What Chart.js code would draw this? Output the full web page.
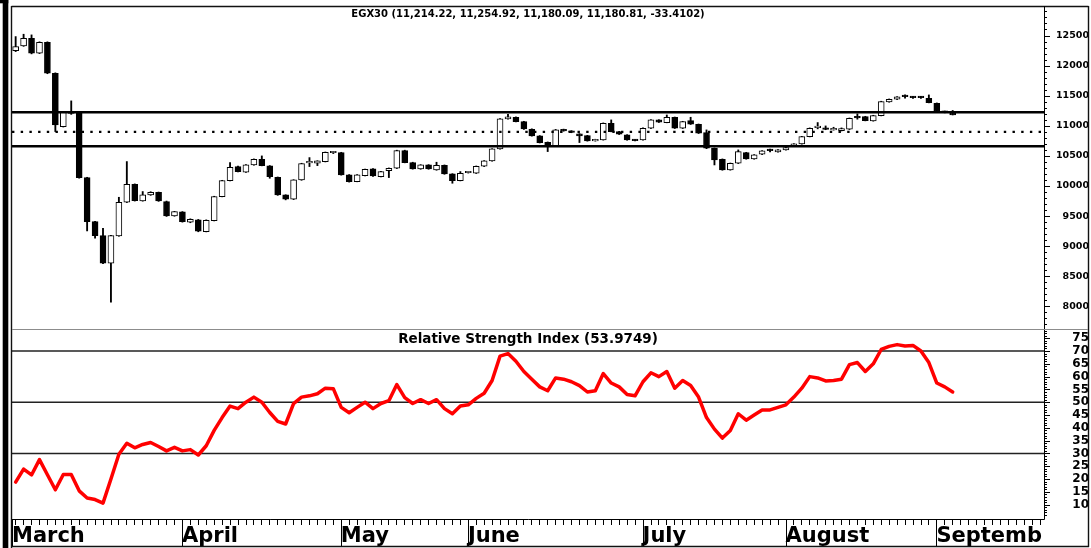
<!DOCTYPE html>
<html><head><meta charset="utf-8">
<script src="https://cdn.jsdelivr.net/npm/chart.js@4.4.1/dist/chart.umd.min.js"></script>
<style>
html,body{margin:0;padding:0;background:#fff;}
canvas{display:block;}
</style></head><body>
<canvas id="c" width="1091" height="548" style="width:1091px;height:548px"></canvas>
<script>
// ---- data ----
const months = ['March','April','May','June','July','August','Septemb'];
const monthStart = [0,21,41,57,79,97,116];
const open  = [12250,12327,12455,12205,12388,11873,10987,11215,11209,10140,9409,9177,8717,9171,9730,10029,9752,9852,9896,9741,9503,9570,9398,9437,9243,9426,9824,10090,10323,10229,10350,10445,10334,10146,9852,9780,10101,10385,10378,10406,10553,10555,10184,10074,10173,10284,10157,10256,10295,10589,10389,10284,10350,10267,10345,10201,10090,10220,10212,10328,10417,10616,11115,11142,11070,10943,10832,10727,10672,10940,10915,10865,10838,10750,10766,11043,10904,10849,10760,10766,10960,11098,11053,11142,10960,11087,11026,10887,10627,10445,10268,10378,10555,10450,10527,10590,10566,10600,10666,10700,10821,10970,10945,10932,10920,10943,11137,11153,11082,11170,11397,11441,11486,11470,11471,11458,11375,11237,11214.22];
const high  = [12482,12521,12510,12395,12395,11880,11230,11414,11215,10145,9415,9298,9180,9813,10406,10035,9908,9905,9900,9750,9580,9575,9455,9445,9438,9830,10095,10389,10330,10355,10450,10500,10340,10150,9855,10105,10378,10472,10420,10565,10572,10560,10190,10190,10282,10290,10245,10300,10595,10595,10395,10355,10355,10395,10350,10205,10240,10232,10333,10422,10620,11120,11192,11148,11075,10950,10838,10732,10940,10945,10920,10870,10842,10777,11048,11098,10908,10853,10770,10965,11103,11102,11180,11146,11075,11142,11030,10932,10632,10450,10382,10600,10560,10522,10588,10615,10605,10642,10704,10825,10965,11054,10998,10976,10965,11130,11198,11158,11175,11408,11446,11485,11513,11490,11490,11513,11380,11245,11254.92];
const low   = [12233,12320,12195,12200,11865,10904,10980,11190,10130,9254,9132,8710,8069,9165,9725,9750,9748,9845,9745,9495,9498,9400,9390,9240,9238,9420,9820,10085,10235,10225,10345,10335,10129,9845,9770,9775,10095,10323,10339,10400,10539,10180,10065,10070,10168,10160,10150,10140,10290,10385,10280,10278,10278,10262,10195,10046,10085,10215,10208,10323,10412,10610,11110,11065,10940,10828,10715,10572,10668,10910,10885,10722,10745,10745,10762,10900,10855,10760,10750,10762,10955,11055,11050,10955,10955,11022,10872,10620,10350,10262,10263,10373,10445,10445,10522,10565,10562,10596,10660,10695,10816,10950,10935,10928,10915,10938,11110,11082,11077,11165,11392,11436,11458,11455,11455,11381,11232,11215,11180.09];
const close = [12316,12455,12205,12388,11873,11015,11225,11205,10140,9409,9177,8717,9177,9730,10029,9758,9852,9896,9752,9503,9575,9409,9448,9249,9432,9824,10090,10312,10240,10350,10445,10339,10157,9852,9780,10101,10373,10390,10417,10561,10557,10184,10074,10184,10278,10168,10240,10295,10589,10389,10284,10350,10284,10345,10201,10090,10212,10225,10328,10417,10616,11115,11148,11070,10948,10832,10722,10672,10932,10915,10890,10832,10750,10760,11043,10904,10860,10766,10755,10960,11098,11060,11142,10960,11070,11026,10877,10627,10434,10268,10378,10572,10450,10517,10583,10588,10600,10638,10700,10821,10960,10975,10940,10935,10954,11126,11132,11087,11170,11403,11441,11480,11485,11469,11468,11386,11237,11225,11180.81];
const rsi   = [18.8,23.9,21.6,27.6,21.7,15.8,21.8,21.8,15.4,12.6,12,10.6,20,29.7,34,32.2,33.5,34.3,32.7,31,32.4,31,31.5,29.4,33,39,44,48.5,47.5,50,52,50,46,42.5,41.5,49.5,52,52.5,53.3,55.5,55.3,48,45.9,48,50,47.5,49.5,50.6,56.9,51.8,49.5,51,49.5,51,47.5,45.5,48.5,49,51.5,53.5,58.5,68,69,66,62,59,56,54.5,59.5,59,58,56.5,54,54.5,61.2,57.5,56,53,52.5,58,61.5,60,62,55.5,58.5,56.5,52,44,39.5,36,39,45.5,43,45,47,47,48,49,52,55.5,60,59.5,58.3,58.5,59,64.7,65.5,62,65,70.6,71.8,72.5,72,72.2,70,65.5,57.5,56,54];
const bandLevels = [11225, 10661];
const midLevel = 10900;
const rsiLevels = [70, 50, 30];
const priceTicks = [8000,8500,9000,9500,10000,10500,11000,11500,12000,12500];
const rsiTicks = [10,15,20,25,30,35,40,45,50,55,60,65,70,75];
const titleText = 'EGX30 (11,214.22, 11,254.92, 11,180.09, 11,180.81, -33.4102)';
const rsiTitle = 'Relative Strength Index (53.9749)';

// ---- scale settings ----
const xMin = -0.46, xMax = 129.5, slots = 131;
const priceMin = 7625, priceMax = 12990;
const rsiMin = 4.4, rsiMax = 78.6;

const idx = close.map((_, i) => i);
const monthTicks = monthStart.map((s, k) => k === 0 ? xMin : s - 0.05);
const wickData = idx.map(i => ({x: i, y: [low[i], high[i]]}));
const bodyData = idx.map(i => ({x: i, y: [Math.min(open[i], close[i]), Math.max(open[i], close[i])]}));
const bodyFill = idx.map(i => close[i] >= open[i] ? '#ffffff' : '#000000');
const rsiData = idx.map(i => ({x: i, y: rsi[i]}));
const hLine = (v) => [{x: xMin, y: v}, {x: xMax, y: v}];

const datasets = [
  {type:'bar', data: wickData, yAxisID:'y', backgroundColor:'#000', borderWidth:0, barThickness:1.2, grouped:false, order:3, minBarLength:1},
  {type:'bar', data: bodyData, yAxisID:'y', backgroundColor: bodyFill, borderColor:'#000', borderWidth:1, borderSkipped:false, barThickness:6, grouped:false, order:2, minBarLength:1.5},
];
bandLevels.forEach(v => datasets.push({type:'line', data: hLine(v), yAxisID:'y', borderColor:'#000', borderWidth:2.6, pointRadius:0, order:1}));
datasets.push({type:'line', data: hLine(midLevel), yAxisID:'y', borderColor:'#000', borderWidth:2.4, borderDash:[2.4, 6.3], pointRadius:0, order:1});
rsiLevels.forEach(v => datasets.push({type:'line', data: hLine(v), yAxisID:'y2', borderColor:'#222', borderWidth:1.5, pointRadius:0, order:1}));
datasets.push({type:'line', data: rsiData, yAxisID:'y2', borderColor:'#ff0000', borderWidth:3.5, pointRadius:0, tension:0, borderJoinStyle:'round', borderCapStyle:'round', order:0});

const zeroPad = s => { s.paddingTop = 0; s.paddingBottom = 0; s.paddingLeft = 0; s.paddingRight = 0; };

const framePlugin = {
  id: 'frame',
  afterDraw(chart) {
    const ctx = chart.ctx, a = chart.chartArea;
    const xs = chart.scales.x, ys = chart.scales.y, rs = chart.scales.y2;
    const line = (x1, y1, x2, y2) => { ctx.beginPath(); ctx.moveTo(x1, y1); ctx.lineTo(x2, y2); ctx.stroke(); };
    ctx.save();
    ctx.fillStyle = '#000';
    ctx.fillRect(0, 0, 8.3, 3.3);
    ctx.fillRect(2.7, 0, 5.6, 548);
    ctx.strokeStyle = '#111'; ctx.lineWidth = 1.4;
    line(11.5, 6.5, 1088.5, 6.5);
    line(11.5, 6, 11.5, 548);
    line(1088.5, 6, 1088.5, 547);
    line(11, 546.5, 1089, 546.5);
    ctx.strokeStyle = '#000'; ctx.lineWidth = 1;
    line(a.right + 0.5, a.top, a.right + 0.5, a.bottom + 0.5);
    line(a.left, a.bottom + 0.5, a.right + 0.5, a.bottom + 0.5);
    for (let v = 7700; v <= 12900; v += 100) {
      const y = Math.round(ys.getPixelForValue(v)) + 0.5;
      line(a.right, y, a.right + (v % 500 === 0 ? 6 : 3), y);
    }
    for (let v = 6; v <= 78; v += 1) {
      const y = Math.round(rs.getPixelForValue(v)) + 0.5;
      line(a.right, y, a.right + (v % 5 === 0 ? 6 : 3), y);
    }
    for (let i = 0; i < slots; i++) {
      const x = Math.round(xs.getPixelForValue(i - 0.05)) + 0.5;
      if (x < a.right) line(x, a.bottom, x, a.bottom + 6);
    }
    monthTicks.forEach(v => {
      const x = Math.round(xs.getPixelForValue(v)) + 0.5;
      line(x, a.bottom, x, 546);
    });
    ctx.strokeStyle = '#8c8c8c';
    line(a.left, Math.round(rs.top) + 0.5, 1088, Math.round(rs.top) + 0.5);
    ctx.fillStyle = '#000'; ctx.textAlign = 'center'; ctx.textBaseline = 'middle';
    ctx.font = 'bold 10px "DejaVu Sans"';
    ctx.fillText(titleText, (a.left + a.right) / 2, 14.5);
    ctx.font = 'bold 13.5px "DejaVu Sans"';
    ctx.fillText(rsiTitle, (a.left + a.right) / 2, rs.top + 10);
    ctx.restore();
  }
};

new Chart(document.getElementById('c'), {
  type: 'bar',
  data: { datasets },
  plugins: [framePlugin],
  options: {
    responsive: false, animation: false, devicePixelRatio: 1,
    layout: { padding: { left: 12, right: 2, top: 6, bottom: 1 } },
    plugins: { legend: { display: false }, tooltip: { enabled: false }, title: { display: false } },
    scales: {
      x: {
        type: 'linear', min: xMin, max: xMax, offset: false,
        grid: { display: false, drawTicks: false }, border: { display: false },
        afterBuildTicks: s => { s.ticks = monthTicks.map(v => ({ value: v })); },
        ticks: { autoSkip: false, maxRotation: 0, minRotation: 0, align: 'start', padding: 5, color: '#000',
                 font: { family: 'DejaVu Sans', size: 21, weight: 'bold' },
                 callback: (v, i) => months[i] },
        afterFit: s => { s.height = 28; zeroPad(s); }
      },
      y: {
        type: 'linear', position: 'right', stack: 'panels', stackWeight: 323, min: priceMin, max: priceMax,
        grid: { display: false, drawTicks: false }, border: { display: false },
        afterBuildTicks: s => { s.ticks = priceTicks.map(v => ({ value: v })); },
        ticks: { autoSkip: false, crossAlign: 'far', padding: 7, color: '#000',
                 font: { family: 'DejaVu Sans', size: 9.5, weight: 'bold' }, callback: v => String(v) },
        afterFit: s => { s.width = 45; zeroPad(s); }
      },
      y2: {
        type: 'linear', position: 'right', stack: 'panels', stackWeight: 190, min: rsiMin, max: rsiMax,
        grid: { display: false, drawTicks: false }, border: { display: false },
        afterBuildTicks: s => { s.ticks = rsiTicks.map(v => ({ value: v })); },
        ticks: { autoSkip: false, crossAlign: 'far', padding: 23, color: '#000',
                 font: { family: 'DejaVu Sans', size: 12, weight: 'bold' }, callback: v => String(v) },
        afterFit: s => { s.width = 45; zeroPad(s); }
      }
    }
  }
});
</script>
</body></html>
